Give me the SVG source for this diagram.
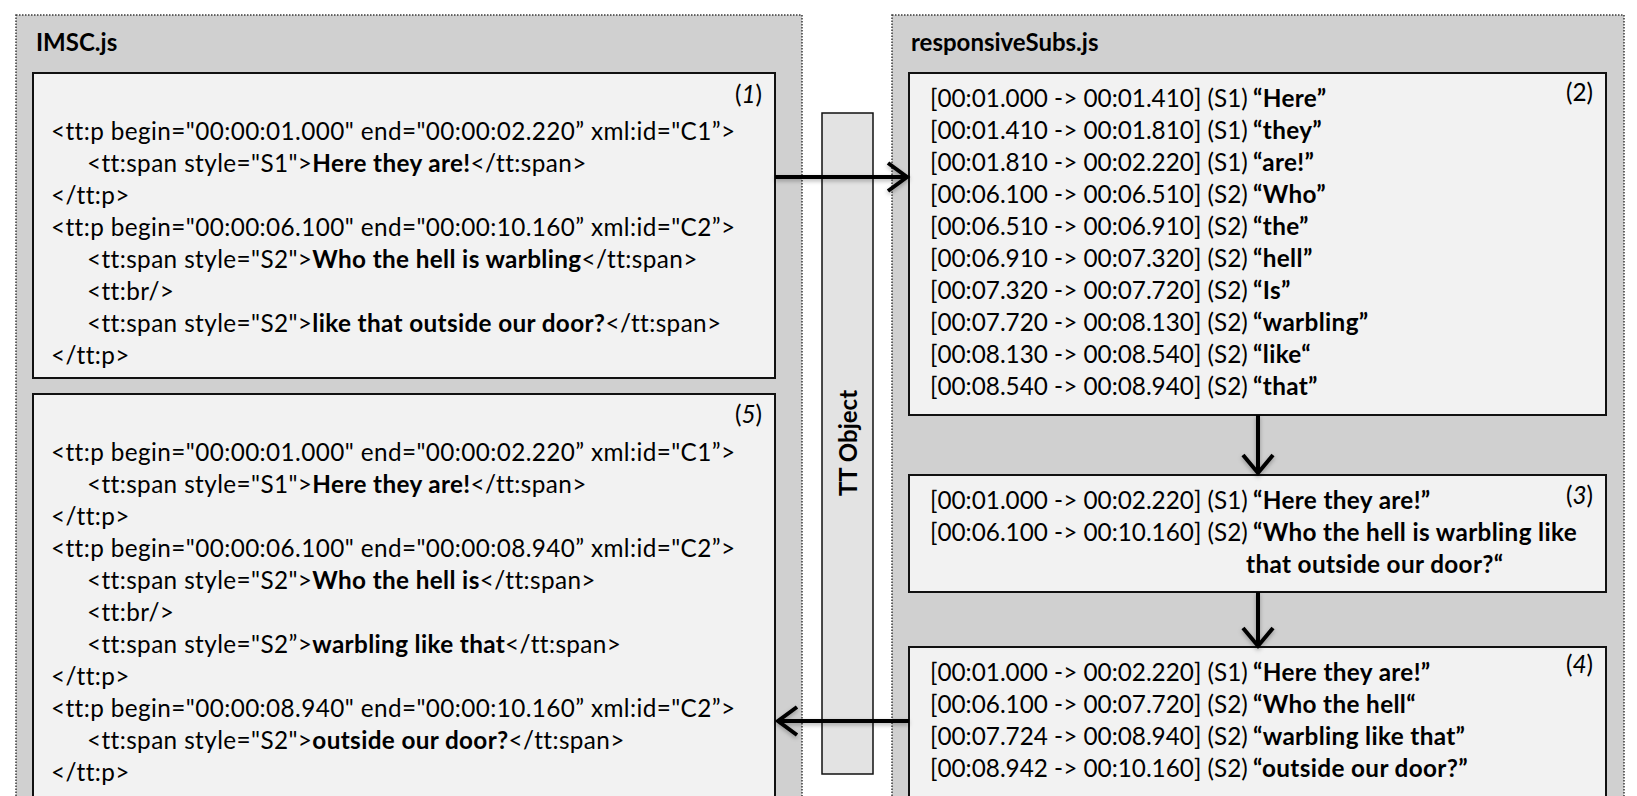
<svg xmlns="http://www.w3.org/2000/svg" width="1637" height="796" viewBox="0 0 1637 796">
<defs>
<style>
.panel{fill:#d0d0d0;stroke:#3a3a3a;stroke-width:1.5;stroke-dasharray:1.5 1.5}
.box{fill:#f2f2f2;stroke:#111;stroke-width:2}
.bar{fill:#e3e3e3;stroke:#111;stroke-width:1.5}
text{font-family:Lato,'Open Sans','Liberation Sans',sans-serif;font-size:24.3px;fill:#000}
.code{letter-spacing:0.4px}
.b{font-weight:700;letter-spacing:0.35px}
.i{font-style:italic}
.title{font-weight:700;font-size:24px}
.conn{fill:none;stroke:#000;stroke-width:4;stroke-linejoin:miter}
</style>
<filter id="sh" x="-20%" y="-20%" width="140%" height="160%">
<feDropShadow dx="0" dy="2" stdDeviation="2" flood-color="#000" flood-opacity="0.3"/>
</filter>
</defs>
<rect x="0" y="0" width="1637" height="796" fill="#ffffff"/>

<g id="imsc-panel">
<rect class="panel" x="16" y="15" width="786" height="800"/>
<text class="title" x="36" y="51">IMSC.js</text>
</g>

<g id="responsive-panel">
<rect class="panel" x="892" y="15" width="732" height="800"/>
<text class="title" x="911" y="51">responsiveSubs.js</text>
</g>

<g id="tt-object">
<rect class="bar" x="822" y="113" width="51" height="661"/>
<text class="title" transform="translate(857,443) rotate(-90)" text-anchor="middle">TT Object</text>
</g>

<g id="box1">
<rect class="box" x="33" y="73" width="742" height="305"/>
<text x="762" y="103" text-anchor="end">(<tspan class="i">1</tspan>)</text>
<text class="code" x="51" y="140">&lt;tt:p begin="00:00:01.000" end="00:00:02.220” xml:id="C1”&gt;</text>
<text class="code" x="87" y="172">&lt;tt:span style="S1"&gt;<tspan class="b">Here they are!</tspan>&lt;/tt:span&gt;</text>
<text class="code" x="51" y="204">&lt;/tt:p&gt;</text>
<text class="code" x="51" y="236">&lt;tt:p begin="00:00:06.100" end="00:00:10.160” xml:id="C2”&gt;</text>
<text class="code" x="87" y="268">&lt;tt:span style="S2"&gt;<tspan class="b">Who the hell is warbling</tspan>&lt;/tt:span&gt;</text>
<text class="code" x="87" y="300">&lt;tt:br/&gt;</text>
<text class="code" x="87" y="332">&lt;tt:span style="S2"&gt;<tspan class="b">like that outside our door?</tspan>&lt;/tt:span&gt;</text>
<text class="code" x="51" y="364">&lt;/tt:p&gt;</text>
</g>

<g id="box5">
<rect class="box" x="33" y="394" width="742" height="420"/>
<text x="762" y="423" text-anchor="end">(<tspan class="i">5</tspan>)</text>
<text class="code" x="51" y="461">&lt;tt:p begin="00:00:01.000" end="00:00:02.220” xml:id="C1”&gt;</text>
<text class="code" x="87" y="493">&lt;tt:span style="S1"&gt;<tspan class="b">Here they are!</tspan>&lt;/tt:span&gt;</text>
<text class="code" x="51" y="525">&lt;/tt:p&gt;</text>
<text class="code" x="51" y="557">&lt;tt:p begin="00:00:06.100" end="00:00:08.940” xml:id="C2”&gt;</text>
<text class="code" x="87" y="589">&lt;tt:span style="S2"&gt;<tspan class="b">Who the hell is</tspan>&lt;/tt:span&gt;</text>
<text class="code" x="87" y="621">&lt;tt:br/&gt;</text>
<text class="code" x="87" y="653">&lt;tt:span style="S2”&gt;<tspan class="b">warbling like that</tspan>&lt;/tt:span&gt;</text>
<text class="code" x="51" y="685">&lt;/tt:p&gt;</text>
<text class="code" x="51" y="717">&lt;tt:p begin="00:00:08.940" end="00:00:10.160” xml:id="C2”&gt;</text>
<text class="code" x="87" y="749">&lt;tt:span style="S2"&gt;<tspan class="b">outside our door?</tspan>&lt;/tt:span&gt;</text>
<text class="code" x="51" y="781">&lt;/tt:p&gt;</text>
</g>

<g id="box2">
<rect class="box" x="909" y="73" width="697" height="342"/>
<text x="1593" y="101" text-anchor="end">(2)</text>
<text x="930" y="107">[00:01.000 -&gt; 00:01.410] (S1) <tspan class="b" x="1253">“Here”</tspan></text>
<text x="930" y="139">[00:01.410 -&gt; 00:01.810] (S1) <tspan class="b" x="1253">“they”</tspan></text>
<text x="930" y="171">[00:01.810 -&gt; 00:02.220] (S1) <tspan class="b" x="1253">“are!”</tspan></text>
<text x="930" y="203">[00:06.100 -&gt; 00:06.510] (S2) <tspan class="b" x="1253">“Who”</tspan></text>
<text x="930" y="235">[00:06.510 -&gt; 00:06.910] (S2) <tspan class="b" x="1253">“the”</tspan></text>
<text x="930" y="267">[00:06.910 -&gt; 00:07.320] (S2) <tspan class="b" x="1253">“hell”</tspan></text>
<text x="930" y="299">[00:07.320 -&gt; 00:07.720] (S2) <tspan class="b" x="1253">“Is”</tspan></text>
<text x="930" y="331">[00:07.720 -&gt; 00:08.130] (S2) <tspan class="b" x="1253">“warbling”</tspan></text>
<text x="930" y="363">[00:08.130 -&gt; 00:08.540] (S2) <tspan class="b" x="1253">“like“</tspan></text>
<text x="930" y="395">[00:08.540 -&gt; 00:08.940] (S2) <tspan class="b" x="1253">“that”</tspan></text>
</g>

<g id="box3">
<rect class="box" x="909" y="475" width="697" height="117"/>
<text x="1593" y="504" text-anchor="end">(<tspan class="i">3</tspan>)</text>
<text x="930" y="509">[00:01.000 -&gt; 00:02.220] (S1) <tspan class="b" x="1253">“Here they are!”</tspan></text>
<text x="930" y="541">[00:06.100 -&gt; 00:10.160] (S2) <tspan class="b" x="1253">“Who the hell is warbling like</tspan></text>
<text class="b" x="1246" y="573">that outside our door?“</text>
</g>

<g id="box4">
<rect class="box" x="909" y="647" width="697" height="160"/>
<text x="1593" y="673" text-anchor="end">(<tspan class="i">4</tspan>)</text>
<text x="930" y="681">[00:01.000 -&gt; 00:02.220] (S1) <tspan class="b" x="1253">“Here they are!”</tspan></text>
<text x="930" y="713">[00:06.100 -&gt; 00:07.720] (S2) <tspan class="b" x="1253">“Who the hell“</tspan></text>
<text x="930" y="745">[00:07.724 -&gt; 00:08.940] (S2) <tspan class="b" x="1253">“warbling like that”</tspan></text>
<text x="930" y="777">[00:08.942 -&gt; 00:10.160] (S2) <tspan class="b" x="1253">“outside our door?”</tspan></text>
</g>

<g id="connectors" filter="url(#sh)">
<path class="conn" d="M775,177 H906 M888,163 L907,177 L888,191"/>
<path class="conn" d="M1258,415 V472 M1243,455 L1258,473 L1273,455"/>
<path class="conn" d="M1258,592 V645 M1243,628 L1258,646 L1273,628"/>
<path class="conn" d="M909,721 H779 M797,707 L778,721 L797,735"/>
</g>
</svg>
